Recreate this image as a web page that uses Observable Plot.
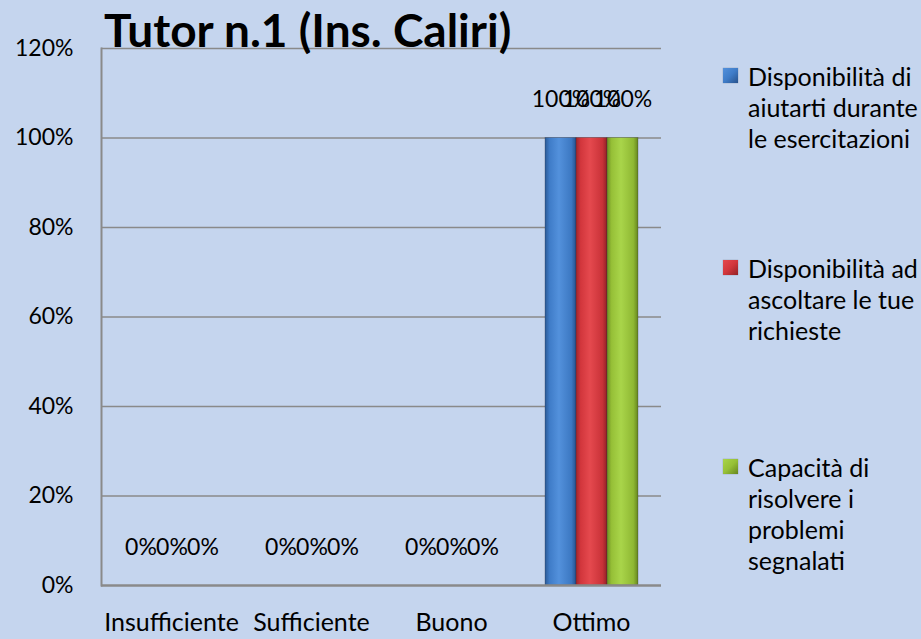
<!DOCTYPE html>
<html>
<head>
<meta charset="utf-8">
<script src="https://cdn.jsdelivr.net/npm/d3@7"></script>
<script src="https://cdn.jsdelivr.net/npm/@observablehq/plot@0.6"></script>
<style>
  html, body { margin: 0; padding: 0; }
  #wrap { position: relative; width: 921px; height: 639px; background: #c5d5ee; overflow: hidden; font-family: Lato, sans-serif; }
  #title { position: absolute; left: 104px; top: 3px; font-size: 46px; font-weight: bold; color: #000; white-space: nowrap; line-height: 54px; }
  #chart { position: absolute; left: 0; top: 0; }
  .leg { position: absolute; left: 748px; font-size: 25px; line-height: 31px; color: #000; }
  .sw { position: absolute; left: -25px; top: 7px; width: 15px; height: 15px; box-shadow: 0 0 1px rgba(0,0,0,0.4); }
</style>
</head>
<body>
<div id="wrap">
  <div id="chart"></div>
  <div id="title"></div>
  <div id="legend"></div>
</div>
<script>
const title = "Tutor n.1 (Ins. Caliri)";
const categories = ["Insufficiente", "Sufficiente", "Buono", "Ottimo"];
const series = [
  "Disponibilità di aiutarti durante le esercitazioni",
  "Disponibilità ad ascoltare le tue richieste",
  "Capacità di risolvere i problemi segnalati"
];
const legendLines = [
  ["Disponibilità di", "aiutarti durante", "le esercitazioni"],
  ["Disponibilità ad", "ascoltare le tue", "richieste"],
  ["Capacità di", "risolvere i", "problemi", "segnalati"]
];
const valuesS1 = [0, 0, 0, 1];
const valuesS2 = [0, 0, 0, 1];
const valuesS3 = [0, 0, 0, 1];
const yTicks = [0, 0.2, 0.4, 0.6, 0.8, 1.0, 1.2];

const gradStops = [
  ["#2b5a96", "#3f7cc8", "#5391dc", "#3c78c2", "#28528c"],
  ["#9e262b", "#d2363c", "#e5494e", "#c93238", "#922226"],
  ["#6f9124", "#96c037", "#a9d54a", "#8fb833", "#66861f"]
];
const gradIds = ["g0", "g1", "g2"];

const allValues = [valuesS1, valuesS2, valuesS3];
const data = [];
categories.forEach((c, ci) => {
  series.forEach((s, si) => {
    data.push({category: c, series: s, value: allValues[si][ci]});
  });
});

const pct = d3.format(".0%");

const plot = Plot.plot({
  width: 921,
  height: 639,
  marginLeft: 100,
  marginRight: 259,
  marginTop: 48,
  marginBottom: 54,
  style: {background: "transparent", fontFamily: "Lato, sans-serif", fontSize: "23px", color: "#000"},
  fx: {domain: categories, padding: 0},
  x: {domain: series, paddingInner: 0, paddingOuter: 0.75, axis: null},
  y: {domain: [0, 1.2]},
  color: {domain: series, range: gradIds.map(id => `url(#${id})`)},
  marks: [
    Plot.ruleY(yTicks.slice(1), {stroke: "#8a8a8a", strokeWidth: 1.5}),
    Plot.frame({anchor: "left", facet: "super", stroke: "#8a8a8a", strokeWidth: 2}),
    Plot.barY(data, {fx: "category", x: "series", y: "value", fill: "series", stroke: "rgba(40,40,60,0.35)", strokeWidth: 0.8}),
    Plot.ruleY([0], {stroke: "#8a8a8a", strokeWidth: 2.5}),
    Plot.text(data, {fx: "category", x: "series", y: "value", text: d => pct(d.value), dy: -38, fontSize: 23, fill: "#000"}),
    Plot.axisY({ticks: yTicks, tickFormat: pct, tickSize: 0, tickPadding: 28, label: null, fontSize: 23}),
    Plot.axisFx({anchor: "bottom", tickSize: 0, tickPadding: 28, label: null, fontSize: 25})
  ]
});

// gradient definitions for 3D-like bars
const svg = d3.select(plot);
const defs = svg.insert("defs", ":first-child");
gradStops.forEach((stops, i) => {
  const g = defs.append("linearGradient").attr("id", gradIds[i]).attr("x1", "0").attr("x2", "1").attr("y1", "0").attr("y2", "0");
  const offs = [0, 0.15, 0.45, 0.85, 1];
  stops.forEach((c, j) => g.append("stop").attr("offset", offs[j]).attr("stop-color", c));
});

document.getElementById("chart").appendChild(plot);
document.getElementById("title").textContent = title;

const legend = document.getElementById("legend");
const legendTops = [61, 253, 452];
legendLines.forEach((lines, i) => {
  const item = document.createElement("div");
  item.className = "leg";
  item.style.top = legendTops[i] + "px";
  const sw = document.createElement("div");
  sw.className = "sw";
  sw.style.background = `linear-gradient(135deg, ${gradStops[i][2]}, ${gradStops[i][1]} 50%, ${gradStops[i][4]})`;
  item.appendChild(sw);
  lines.forEach(l => {
    const ln = document.createElement("div");
    ln.textContent = l;
    item.appendChild(ln);
  });
  legend.appendChild(item);
});
</script>
</body>
</html>
